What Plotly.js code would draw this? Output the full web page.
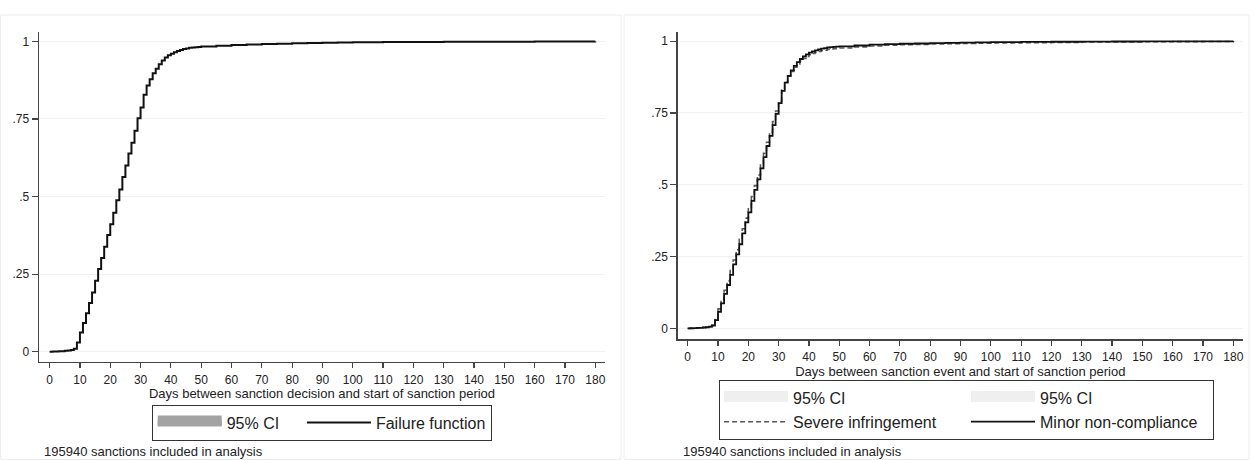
<!DOCTYPE html>
<html><head><meta charset="utf-8">
<script src="https://cdn.plot.ly/plotly-3.0.1.min.js"></script>
<style>html,body{margin:0;padding:0;background:#fff}#chart{width:1255px;height:460px}</style>
</head><body><div id="chart"></div>
<script>
// ---- data ----
const days = [0,1,2,3,4,5,6,7,8,9,10,11,12,13,14,15,16,17,18,19,20,21,22,23,24,25,26,27,28,29,30,
  31,32,33,34,35,36,37,38,39,40,41,42,43,44,45,46,47,48,49,50,55,60,65,70,75,80,85,90,95,100,
  110,120,130,140,150,160,170,180];

// Left panel: failure function (all sanctions)
const failureAll = [0,0.0005,0.001,0.0015,0.002,0.003,0.004,0.006,0.01,0.03,0.062,0.093,0.124,0.157,0.191,
  0.229,0.267,0.302,0.338,0.376,0.411,0.448,0.488,0.523,0.563,0.600,0.639,0.673,0.712,0.752,0.787,
  0.828,0.858,0.878,0.897,0.912,0.926,0.938,0.948,0.955,0.960,0.965,0.969,0.972,0.975,0.977,0.979,0.980,0.981,0.982,0.983,
  0.986,0.988,0.990,0.9915,0.9925,0.9935,0.9945,0.9955,0.996,0.9967,
  0.9975,0.998,0.9985,0.9988,0.999,0.9993,0.9995,0.9997];

// Right panel: failure functions by sanction type
const severe = [0,0.0005,0.001,0.0015,0.002,0.003,0.004,0.006,0.011,0.035,0.068,0.100,0.133,0.165,0.201,
  0.238,0.274,0.310,0.347,0.384,0.421,0.459,0.497,0.534,0.572,0.610,0.648,0.683,0.720,0.757,0.791,
  0.830,0.857,0.878,0.895,0.909,0.921,0.931,0.940,0.947,0.953,0.957,0.961,0.964,0.967,0.969,0.971,0.973,0.974,0.975,0.976,
  0.980,0.983,0.986,0.988,0.989,0.990,0.991,0.992,0.993,0.994,
  0.995,0.996,0.997,0.9975,0.998,0.9985,0.999,0.9993];
const minor = [0,0.0005,0.001,0.0015,0.002,0.003,0.004,0.006,0.01,0.029,0.058,0.087,0.120,0.151,0.186,
  0.223,0.258,0.293,0.331,0.369,0.404,0.444,0.482,0.519,0.557,0.596,0.635,0.670,0.708,0.747,0.784,
  0.827,0.856,0.879,0.898,0.914,0.927,0.938,0.947,0.954,0.960,0.964,0.968,0.971,0.974,0.976,0.978,0.979,0.980,0.981,0.982,
  0.985,0.988,0.990,0.991,0.992,0.993,0.994,0.995,0.996,0.9965,
  0.9975,0.998,0.9985,0.9988,0.999,0.9993,0.9995,0.9997];

const xTickVals = [0,10,20,30,40,50,60,70,80,90,100,110,120,130,140,150,160,170,180];
const yTickVals = [0,0.25,0.5,0.75,1];
const yTickText = ['0','.25','.5','.75','1'];

const xTitleLeft = 'Days between sanction decision and start of sanction period';
const xTitleRight = 'Days between sanction event and start of sanction period';
const footnote = '195940 sanctions included in analysis';
const nameCI = '95% CI', nameFail = 'Failure function', nameSevere = 'Severe infringement', nameMinor = 'Minor non-compliance';

// ---- styling ----
const FONT = 'Liberation Sans, Arial, Helvetica, sans-serif';
const W = 1255, H = 460;
const px = v => v / W, py = v => 1 - v / H;
const axisCol = '#444';
const NB = '\u00a0';

const traces = [
  // left CI band (indistinguishable from the estimate at this sample size)
  {x: days, y: failureAll, xaxis:'x', yaxis:'y', mode:'lines', line:{width:0, shape:'hv'}, showlegend:false, hoverinfo:'skip'},
  {x: days, y: failureAll, xaxis:'x', yaxis:'y', mode:'lines', line:{width:0, shape:'hv'}, fill:'tonexty',
   fillcolor:'#a3a3a3', showlegend:false, hoverinfo:'skip'},
  // legend key for the CI
  {x:[null], y:[null], xaxis:'x', yaxis:'y', mode:'lines', line:{width:10, color:'#a3a3a3'}, fill:'toself',
   fillcolor:'#a3a3a3', name:nameCI + NB.repeat(4), legend:'legend'},
  {x: days, y: failureAll, xaxis:'x', yaxis:'y', mode:'lines', line:{color:'#111', width:2, shape:'hv'},
   name:nameFail, legend:'legend'},
  // right CI bands
  {x: days, y: severe, xaxis:'x2', yaxis:'y2', mode:'lines', line:{width:0, shape:'hv'}, showlegend:false, hoverinfo:'skip'},
  {x: days, y: severe, xaxis:'x2', yaxis:'y2', mode:'lines', line:{width:0, shape:'hv'}, fill:'tonexty',
   fillcolor:'#f0f0f0', showlegend:false, hoverinfo:'skip'},
  {x: days, y: minor, xaxis:'x2', yaxis:'y2', mode:'lines', line:{width:0, shape:'hv'}, showlegend:false, hoverinfo:'skip'},
  {x: days, y: minor, xaxis:'x2', yaxis:'y2', mode:'lines', line:{width:0, shape:'hv'}, fill:'tonexty',
   fillcolor:'#f0f0f0', showlegend:false, hoverinfo:'skip'},
  // legend keys for the CIs (grouped so the right legend forms two columns)
  {x:[null], y:[null], xaxis:'x2', yaxis:'y2', mode:'lines', line:{width:10, color:'#efefef'}, fill:'toself',
   fillcolor:'#efefef', name:nameCI, legend:'legend2', legendgroup:'sev'},
  {x: days, y: severe, xaxis:'x2', yaxis:'y2', mode:'lines', line:{color:'#5a5a5a', width:1.6, shape:'hv', dash:'5px,3px'},
   name:nameSevere, legend:'legend2', legendgroup:'sev'},
  {x:[null], y:[null], xaxis:'x2', yaxis:'y2', mode:'lines', line:{width:10, color:'#efefef'}, fill:'toself',
   fillcolor:'#efefef', name:nameCI, legend:'legend2', legendgroup:'min'},
  {x: days, y: minor, xaxis:'x2', yaxis:'y2', mode:'lines', line:{color:'#111', width:1.8, shape:'hv'},
   name:nameMinor, legend:'legend2', legendgroup:'min'}
];

function xaxisCfg(domain, range, title) {
  return {domain, range, tickvals:xTickVals, ticks:'outside', ticklen:5, tickwidth:1.2, tickcolor:axisCol,
    showline:true, linecolor:axisCol, linewidth:1.4, showgrid:false, zeroline:false, ticklabelstandoff:1,
    tickfont:{family:FONT, size:12, color:'#222'},
    title:{text:title, standoff:0, font:{family:FONT, size:13, color:'#222'}}, fixedrange:true};
}
function yaxisCfg(domain, range, anchor) {
  return {domain, range, anchor, tickvals:yTickVals, ticktext:yTickText, ticks:'outside', ticklen:6, tickwidth:1.2,
    tickcolor:axisCol, showline:true, linecolor:axisCol, linewidth:1.4, showgrid:true, gridcolor:'#f1f1f1', gridwidth:1,
    zeroline:false, tickfont:{family:FONT, size:12, color:'#222'}, fixedrange:true};
}
const legendBase = {xanchor:'left', yanchor:'top', orientation:'h', bgcolor:'#fff', traceorder:'normal',
  bordercolor:'#333', borderwidth:1, itemwidth:64, font:{family:FONT, size:16, color:'#222'}};

const layout = {
  width: W, height: H, margin:{l:0, r:0, t:0, b:0, autoexpand:false}, paper_bgcolor:'#fff', plot_bgcolor:'#fff',
  font:{family:FONT, color:'#222'},
  xaxis: Object.assign(xaxisCfg([px(39), px(605)], [-3.5, 183.2], xTitleLeft), {anchor:'y'}),
  yaxis: yaxisCfg([py(361.7), py(31.7)], [-0.032, 1.031], 'x'),
  xaxis2: Object.assign(xaxisCfg([px(677.7), px(1243)], [-3.3, 183.2], xTitleRight), {anchor:'y2'}),
  yaxis2: yaxisCfg([py(339.3), py(31.7)], [-0.038, 1.033], 'x2'),
  legend: Object.assign({}, legendBase, {x:px(151.7), y:py(404.5)}),
  legend2: Object.assign({}, legendBase, {x:px(719), y:py(380), traceorder:'grouped', tracegroupgap:10, entrywidth:168}),
  shapes: [
    {type:'rect', xref:'paper', yref:'paper', x0:px(0.5), x1:px(621), y0:py(459.5), y1:py(15), line:{color:'#ececec', width:1}, layer:'below'},
    {type:'rect', xref:'paper', yref:'paper', x0:px(624), x1:px(1249), y0:py(459.5), y1:py(15), line:{color:'#ececec', width:1}, layer:'below'}
  ],
  annotations: [
    {xref:'paper', yref:'paper', x:px(42), y:py(451.5), xanchor:'left', yanchor:'middle', text:footnote, showarrow:false,
     font:{family:FONT, size:13, color:'#222'}},
    {xref:'paper', yref:'paper', x:px(681), y:py(451.5), xanchor:'left', yanchor:'middle', text:footnote, showarrow:false,
     font:{family:FONT, size:13, color:'#222'}}
  ]
};

Plotly.newPlot('chart', traces, layout, {staticPlot:true, displayModeBar:false});
</script></body></html>
